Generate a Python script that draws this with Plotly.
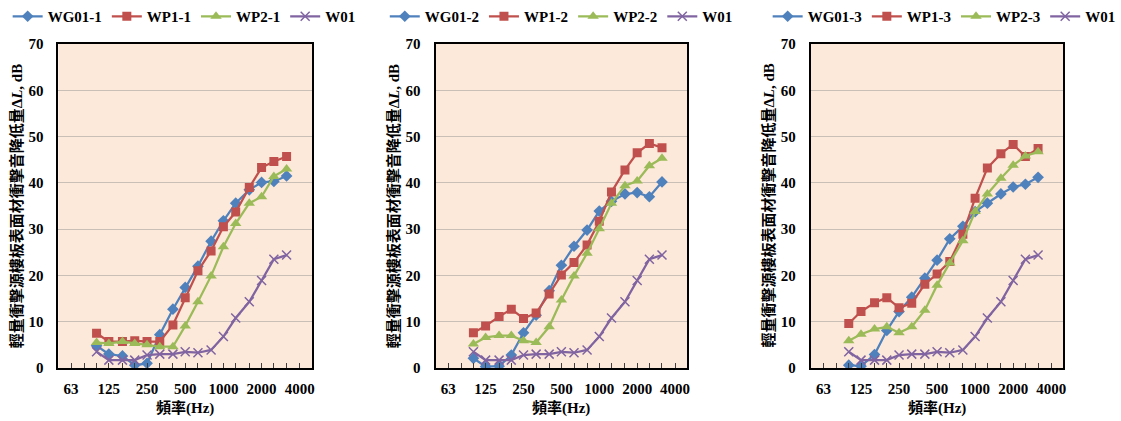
import plotly.graph_objects as go
import numpy as np

freqs = [100, 125, 160, 200, 250, 315, 400, 500, 630, 800, 1000, 1250, 1600, 2000, 2500, 3150]
tick_freqs = [63, 80, 100, 125, 160, 200, 250, 315, 400, 500, 630, 800, 1000, 1250, 1600, 2000, 2500, 3150, 4000, 5000]
tick_labels = ["63", "", "", "125", "", "", "250", "", "", "500", "", "", "1000", "", "", "2000", "", "", "4000", ""]

w01 = [3.5, 1.7, 1.7, 1.7, 2.8, 3.0, 3.0, 3.5, 3.3, 3.9, 6.8, 10.8, 14.3, 18.9, 23.5, 24.4]

wg01_1 = [4.8, 3.0, 2.6, 0.6, 1.0, 7.2, 12.7, 17.4, 22.0, 27.4, 31.8, 35.6, 38.5, 40.1, 40.3, 41.5]
wp1_1 = [7.5, 5.7, 5.7, 5.9, 5.7, 5.7, 9.3, 15.2, 21.0, 25.3, 30.5, 33.7, 39.0, 43.3, 44.6, 45.7]
wp2_1 = [5.5, 5.3, 5.7, 5.3, 5.0, 4.6, 4.6, 9.1, 14.3, 19.9, 26.2, 31.2, 35.6, 37.0, 41.4, 43.0]

wg01_2 = [2.1, 0.3, 0.4, 2.8, 7.6, 11.4, 16.7, 22.2, 26.3, 29.8, 33.9, 36.0, 37.6, 37.9, 37.0, 40.2]
wp1_2 = [7.6, 9.1, 11.1, 12.7, 10.7, 11.9, 16.0, 20.1, 22.8, 26.6, 31.7, 38.0, 42.8, 46.5, 48.5, 47.6]
wp2_2 = [5.2, 6.6, 7.0, 7.0, 5.9, 5.5, 8.9, 14.7, 19.9, 24.8, 30.1, 35.6, 39.4, 40.4, 43.7, 45.3]

wg01_3 = [0.6, 0.4, 2.9, 8.1, 12.2, 15.3, 19.4, 23.3, 27.9, 30.6, 33.8, 35.6, 37.6, 39.1, 39.7, 41.2]
wp1_3 = [9.6, 12.2, 14.1, 15.2, 13.0, 14.0, 18.1, 20.3, 23.0, 28.9, 36.7, 43.2, 46.3, 48.3, 45.7, 47.4]
wp2_3 = [5.9, 7.3, 8.4, 8.9, 7.6, 8.9, 12.5, 17.9, 22.7, 27.5, 33.8, 37.6, 41.0, 43.8, 45.8, 46.7]

panels = [
    (["WG01-1", "WP1-1", "WP2-1", "W01"], [wg01_1, wp1_1, wp2_1, w01]),
    (["WG01-2", "WP1-2", "WP2-2", "W01"], [wg01_2, wp1_2, wp2_2, w01]),
    (["WG01-3", "WP1-3", "WP2-3", "W01"], [wg01_3, wp1_3, wp2_3, w01]),
]

colors = ["#4F81BD", "#C0504D", "#9BBB59", "#8064A2"]
symbols = ["diamond", "square", "triangle-up", "x-thin-open"]
msizes = [9, 9, 10, 9]

W, H = 1121, 421
xdoms_px = [(61, 326), (455, 718), (847, 1111)]
ydom = [(H - 368) / H, (H - 44) / H]
ytitle_x = [18, 412, 803]
legend_x = [8, 402, 802]

FONT = "Liberation Serif, 'Times New Roman', serif"
CJK = "Liberation Serif, 'Noto Sans CJK TC', serif"

fig = go.Figure()
layout = dict(
    width=W, height=H, margin=dict(l=0, r=0, t=0, b=0),
    paper_bgcolor="white", plot_bgcolor="#FDE9D9",
    font=dict(family=FONT, size=15, color="black"),
    showlegend=True, annotations=[],
)

for i, (names, series) in enumerate(panels):
    sfx = "" if i == 0 else str(i + 1)
    lg = "legend" + sfx
    for j, (nm, vals) in enumerate(zip(names, series)):
        fig.add_trace(go.Scatter(
            x=freqs, y=vals, name=nm, mode="lines+markers",
            xaxis="x" + sfx, yaxis="y" + sfx, legend=lg,
            line=dict(color=colors[j], width=2.25),
            marker=dict(symbol=symbols[j], size=msizes[j], color=colors[j],
                        line=dict(color=colors[j], width=1.5 if j == 3 else 0)),
        ))
    x0, x1 = xdoms_px[i]
    layout["xaxis" + sfx] = dict(
        domain=[x0 / W, x1 / W], anchor="y" + sfx, type="log",
        range=[np.log10(50), np.log10(5000)],
        tickmode="array", tickvals=tick_freqs, ticktext=tick_labels,
        ticks="inside", ticklen=5, tickcolor="#404040", tickwidth=1,
        showline=True, linecolor="black", linewidth=2, mirror=True,
        showgrid=False, zeroline=False, automargin=False,
        tickfont=dict(family=FONT, size=15, weight="bold"),
        ticklabelstandoff=6,
    )
    layout["yaxis" + sfx] = dict(
        domain=ydom, anchor="x" + sfx, range=[0, 70], dtick=10,
        showline=True, linecolor="black", linewidth=2, mirror=True,
        showgrid=True, gridcolor="#C9BFB6", gridwidth=1, zeroline=False,
        ticks="", automargin=False,
        tickfont=dict(family=FONT, size=15, weight="bold"),
        ticklabelstandoff=10,
    )
    layout[lg] = dict(
        orientation="h", x=legend_x[i] / W, y=1.0, xanchor="left", yanchor="top",
        font=dict(family=FONT, size=15, weight="bold"), bgcolor="rgba(0,0,0,0)",
        tracegroupgap=0, itemwidth=30,
    )
    layout["annotations"].append(dict(
        text="輕量衝擊源樓板表面材衝擊音降低量Δ<i>L</i>, dB", textangle=-90,
        x=ytitle_x[i] / W, y=(ydom[0] + ydom[1]) / 2, xref="paper", yref="paper",
        xanchor="center", yanchor="middle",
        showarrow=False, font=dict(family=CJK, size=15, weight="bold"),
    ))
    layout["annotations"].append(dict(
        text="頻率(Hz)", x=(x0 + x1) / 2 / W, y=(H - 408) / H, xref="paper", yref="paper",
        xanchor="center", yanchor="middle",
        showarrow=False, font=dict(family=CJK, size=15, weight="bold"),
    ))

fig.update_layout(**layout)
fig.write_html("out.html")
